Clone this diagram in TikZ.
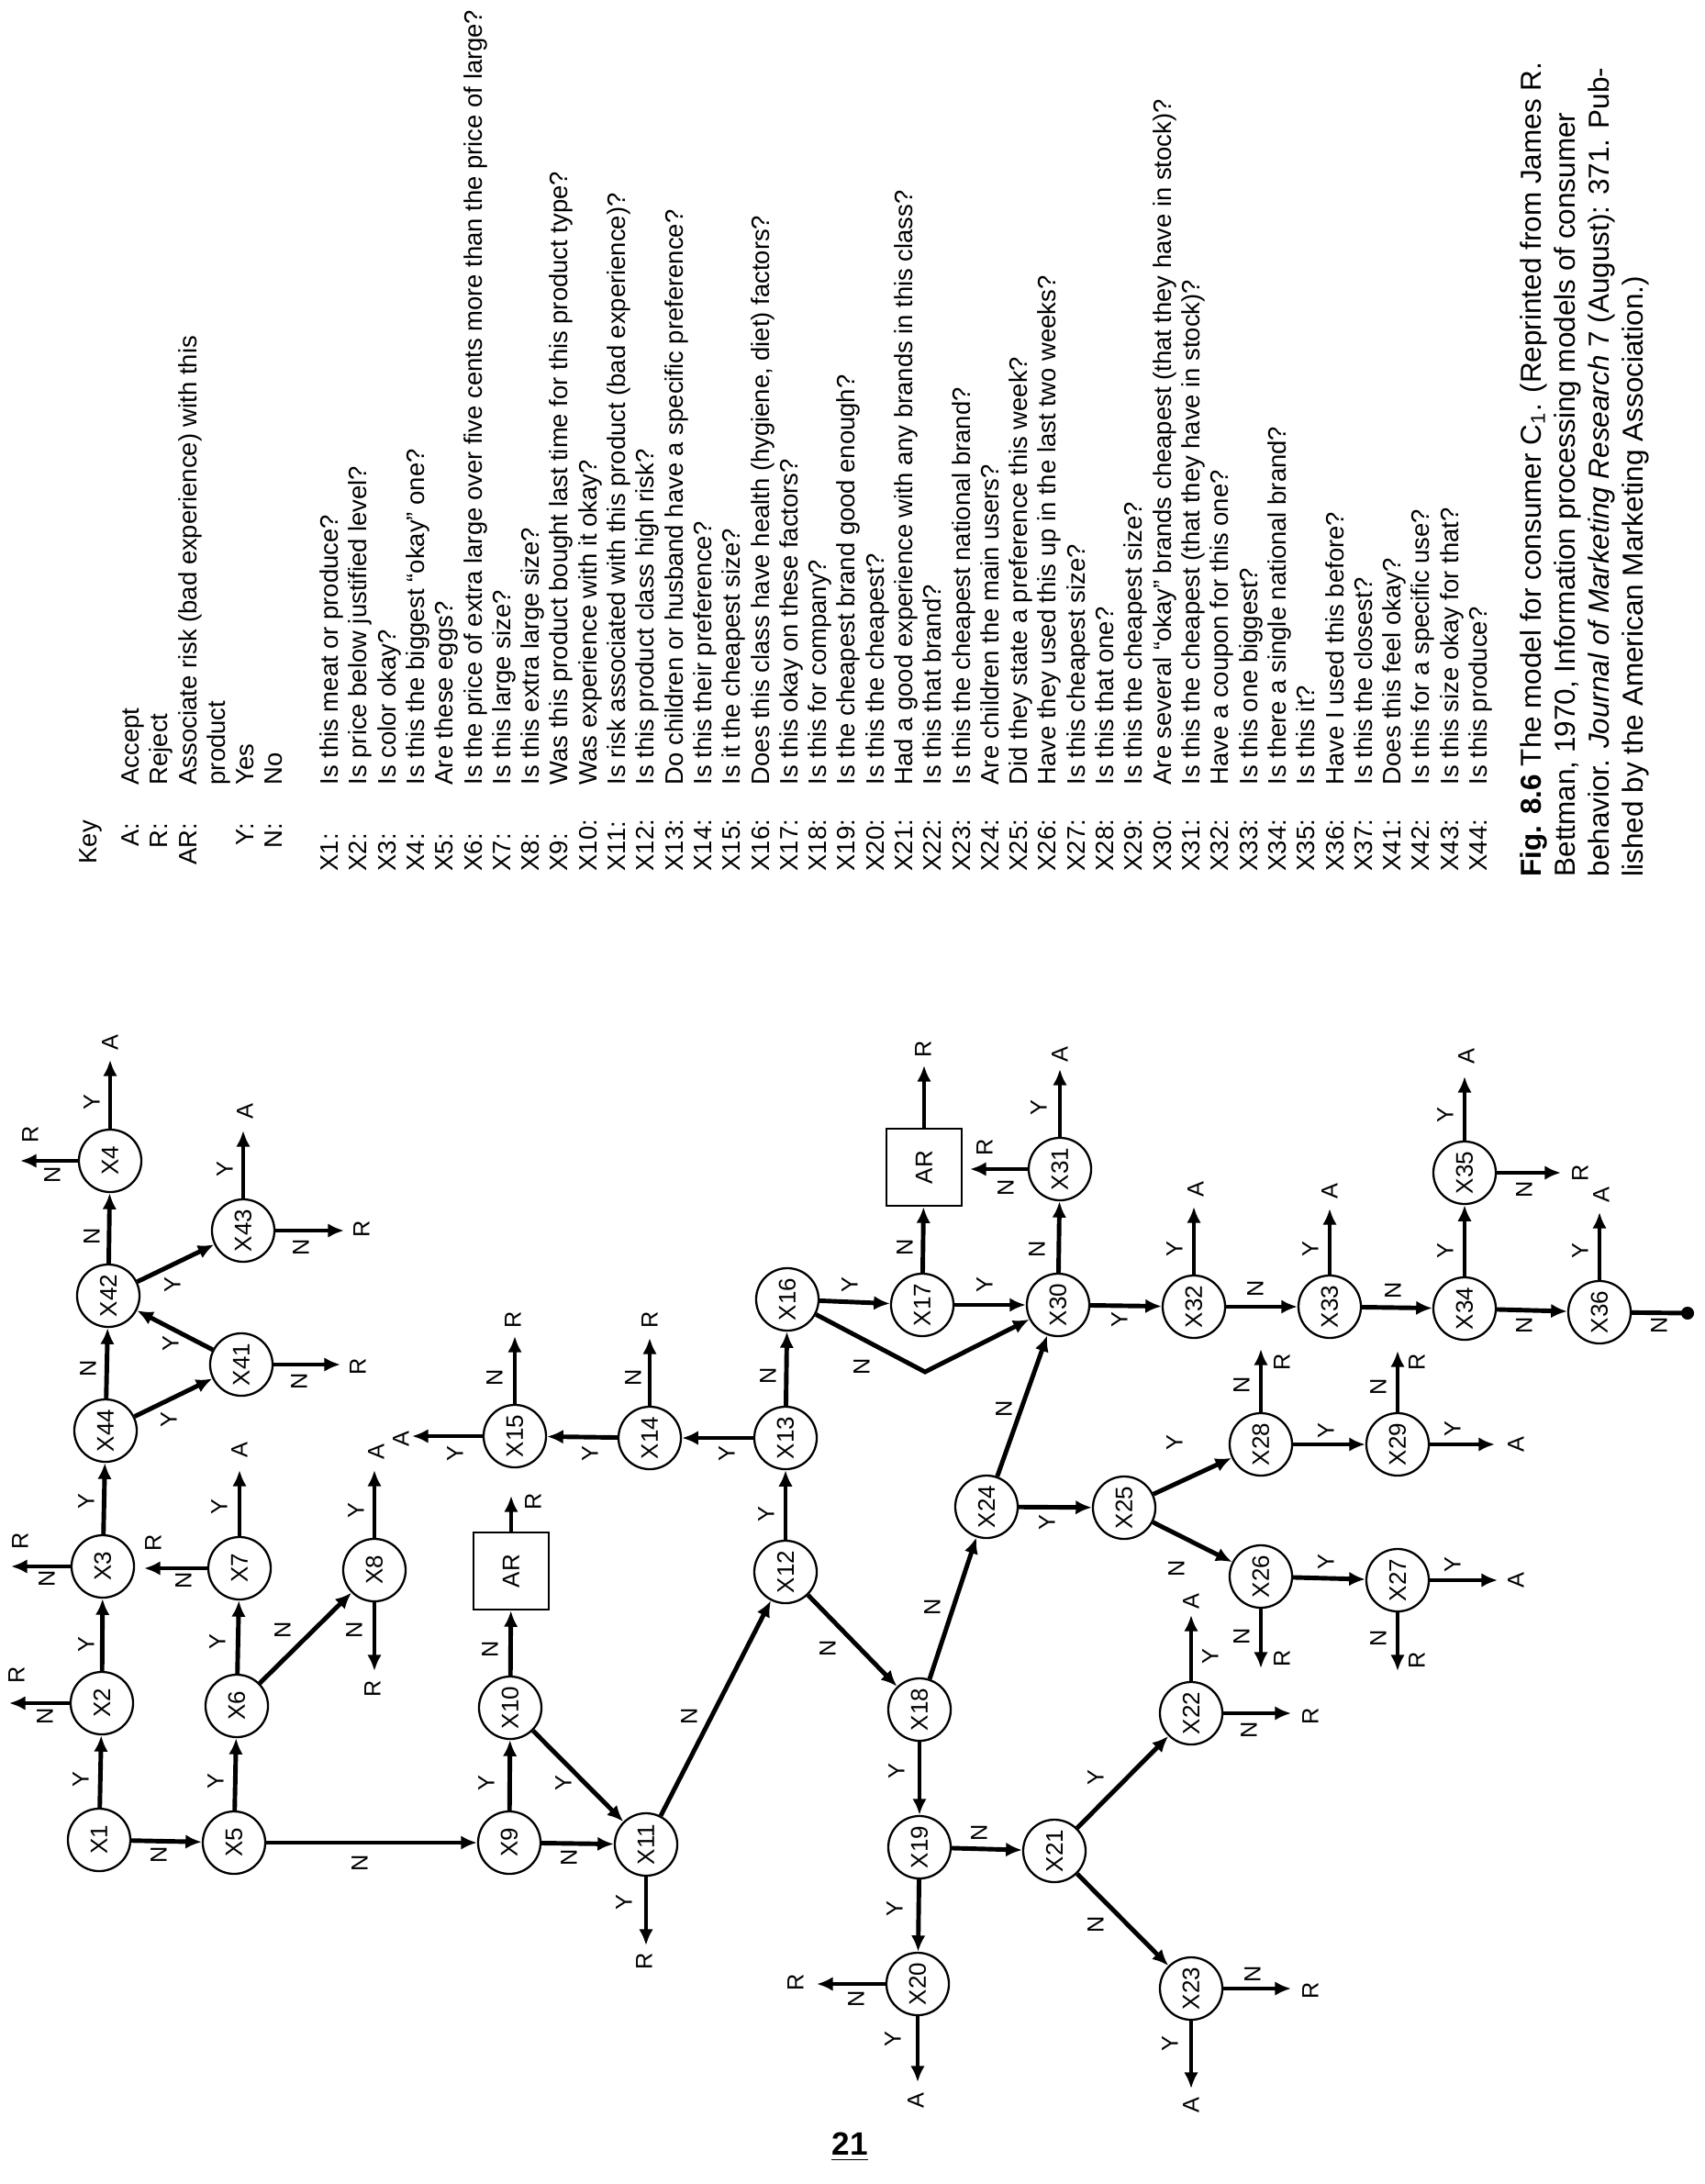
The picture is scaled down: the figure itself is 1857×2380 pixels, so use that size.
\documentclass[tikz,border=0pt]{standalone}
\usepackage{fontspec}
\setmainfont{Liberation Sans}
\usetikzlibrary{arrows.meta}

\begin{document}
\begin{tikzpicture}[x=0.01cm, y=-0.01cm,
  q/.style={circle, draw, line width=0.65pt, minimum size=0.68cm, inner sep=0pt, rotate=90, font=\fontsize{7.4}{8}\selectfont},
  arbox/.style={rectangle, draw, line width=0.65pt, minimum width=0.84cm, minimum height=0.82cm, inner sep=0pt, rotate=90, font=\fontsize{7.4}{8}\selectfont},
  lab/.style={rotate=90, inner sep=0pt, font=\fontsize{7.2}{8}\selectfont},
  arr/.style={line width=1.4pt, -{Latex[length=5pt, width=4.4pt]}},
  keyt/.style={rotate=90, inner sep=0pt, font=\fontsize{7.8}{8.9}\selectfont},
  capt/.style={rotate=90, inner sep=0pt, anchor=mid west, font=\fontsize{8.95}{10.5}\selectfont}]
\useasboundingbox (0,0) rectangle (1857,2380);

% Key (rotated, reads bottom to top)
\node[keyt, anchor=mid west] (key) at (96,942) {Key};
\node[keyt, anchor=mid east] (ka) at (142,896) {A:};
\node[keyt, anchor=mid west] (kad) at (142,856) {Accept};
\node[keyt, anchor=mid east] (kr) at (173,896) {R:};
\node[keyt, anchor=mid west] (krd) at (173,856) {Reject};
\node[keyt, anchor=mid east] (kar) at (205,896) {AR:};
\node[keyt, anchor=mid west] (kard) at (205,856) {Associate risk (bad experience) with this};
\node[keyt, anchor=mid west] (kard2) at (236,856) {product};
\node[keyt, anchor=mid east] (ky) at (267,896) {Y:};
\node[keyt, anchor=mid west] (kyd) at (267,856) {Yes};
\node[keyt, anchor=mid east] (kn) at (298,896) {N:};
\node[keyt, anchor=mid west] (knd) at (298,856) {No};

% Key questions X1 - X44
\node[keyt, anchor=mid west] (k1) at (359,950) {X1:};
\node[keyt, anchor=mid west] (k1d) at (359,856) {Is this meat or produce?};
\node[keyt, anchor=mid west] (k2) at (390,950) {X2:};
\node[keyt, anchor=mid west] (k2d) at (390,856) {Is price below justified level?};
\node[keyt, anchor=mid west] (k3) at (422,950) {X3:};
\node[keyt, anchor=mid west] (k3d) at (422,856) {Is color okay?};
\node[keyt, anchor=mid west] (k4) at (453,950) {X4:};
\node[keyt, anchor=mid west] (k4d) at (453,856) {Is this the biggest ``okay'' one?};
\node[keyt, anchor=mid west] (k5) at (484,950) {X5:};
\node[keyt, anchor=mid west] (k5d) at (484,856) {Are these eggs?};
\node[keyt, anchor=mid west] (k6) at (516,950) {X6:};
\node[keyt, anchor=mid west] (k6d) at (516,856) {Is the price of extra large over five cents more than the price of large?};
\node[keyt, anchor=mid west] (k7) at (547,950) {X7:};
\node[keyt, anchor=mid west] (k7d) at (547,856) {Is this large size?};
\node[keyt, anchor=mid west] (k8) at (578,950) {X8:};
\node[keyt, anchor=mid west] (k8d) at (578,856) {Is this extra large size?};
\node[keyt, anchor=mid west] (k9) at (609,950) {X9:};
\node[keyt, anchor=mid west] (k9d) at (609,856) {Was this product bought last time for this product type?};
\node[keyt, anchor=mid west] (k10) at (641,950) {X10:};
\node[keyt, anchor=mid west] (k10d) at (641,856) {Was experience with it okay?};
\node[keyt, anchor=mid west] (k11) at (672,950) {X11:};
\node[keyt, anchor=mid west] (k11d) at (672,856) {Is risk associated with this product (bad experience)?};
\node[keyt, anchor=mid west] (k12) at (703,950) {X12:};
\node[keyt, anchor=mid west] (k12d) at (703,856) {Is this product class high risk?};
\node[keyt, anchor=mid west] (k13) at (735,950) {X13:};
\node[keyt, anchor=mid west] (k13d) at (735,856) {Do children or husband have a specific preference?};
\node[keyt, anchor=mid west] (k14) at (766,950) {X14:};
\node[keyt, anchor=mid west] (k14d) at (766,856) {Is this their preference?};
\node[keyt, anchor=mid west] (k15) at (797,950) {X15:};
\node[keyt, anchor=mid west] (k15d) at (797,856) {Is it the cheapest size?};
\node[keyt, anchor=mid west] (k16) at (829,950) {X16:};
\node[keyt, anchor=mid west] (k16d) at (829,856) {Does this class have health (hygiene, diet) factors?};
\node[keyt, anchor=mid west] (k17) at (860,950) {X17:};
\node[keyt, anchor=mid west] (k17d) at (860,856) {Is this okay on these factors?};
\node[keyt, anchor=mid west] (k18) at (891,950) {X18:};
\node[keyt, anchor=mid west] (k18d) at (891,856) {Is this for company?};
\node[keyt, anchor=mid west] (k19) at (922,950) {X19:};
\node[keyt, anchor=mid west] (k19d) at (922,856) {Is the cheapest brand good enough?};
\node[keyt, anchor=mid west] (k20) at (954,950) {X20:};
\node[keyt, anchor=mid west] (k20d) at (954,856) {Is this the cheapest?};
\node[keyt, anchor=mid west] (k21) at (985,950) {X21:};
\node[keyt, anchor=mid west] (k21d) at (985,856) {Had a good experience with any brands in this class?};
\node[keyt, anchor=mid west] (k22) at (1016,950) {X22:};
\node[keyt, anchor=mid west] (k22d) at (1016,856) {Is this that brand?};
\node[keyt, anchor=mid west] (k23) at (1048,950) {X23:};
\node[keyt, anchor=mid west] (k23d) at (1048,856) {Is this the cheapest national brand?};
\node[keyt, anchor=mid west] (k24) at (1079,950) {X24:};
\node[keyt, anchor=mid west] (k24d) at (1079,856) {Are children the main users?};
\node[keyt, anchor=mid west] (k25) at (1110,950) {X25:};
\node[keyt, anchor=mid west] (k25d) at (1110,856) {Did they state a preference this week?};
\node[keyt, anchor=mid west] (k26) at (1141,950) {X26:};
\node[keyt, anchor=mid west] (k26d) at (1141,856) {Have they used this up in the last two weeks?};
\node[keyt, anchor=mid west] (k27) at (1173,950) {X27:};
\node[keyt, anchor=mid west] (k27d) at (1173,856) {Is this cheapest size?};
\node[keyt, anchor=mid west] (k28) at (1204,950) {X28:};
\node[keyt, anchor=mid west] (k28d) at (1204,856) {Is this that one?};
\node[keyt, anchor=mid west] (k29) at (1235,950) {X29:};
\node[keyt, anchor=mid west] (k29d) at (1235,856) {Is this the cheapest size?};
\node[keyt, anchor=mid west] (k30) at (1267,950) {X30:};
\node[keyt, anchor=mid west] (k30d) at (1267,856) {Are several ``okay'' brands cheapest (that they have in stock)?};
\node[keyt, anchor=mid west] (k31) at (1298,950) {X31:};
\node[keyt, anchor=mid west] (k31d) at (1298,856) {Is this the cheapest (that they have in stock)?};
\node[keyt, anchor=mid west] (k32) at (1329,950) {X32:};
\node[keyt, anchor=mid west] (k32d) at (1329,856) {Have a coupon for this one?};
\node[keyt, anchor=mid west] (k33) at (1361,950) {X33:};
\node[keyt, anchor=mid west] (k33d) at (1361,856) {Is this one biggest?};
\node[keyt, anchor=mid west] (k34) at (1392,950) {X34:};
\node[keyt, anchor=mid west] (k34d) at (1392,856) {Is there a single national brand?};
\node[keyt, anchor=mid west] (k35) at (1423,950) {X35:};
\node[keyt, anchor=mid west] (k35d) at (1423,856) {Is this it?};
\node[keyt, anchor=mid west] (k36) at (1455,950) {X36:};
\node[keyt, anchor=mid west] (k36d) at (1455,856) {Have I used this before?};
\node[keyt, anchor=mid west] (k37) at (1486,950) {X37:};
\node[keyt, anchor=mid west] (k37d) at (1486,856) {Is this the closest?};
\node[keyt, anchor=mid west] (k41) at (1517,950) {X41:};
\node[keyt, anchor=mid west] (k41d) at (1517,856) {Does this feel okay?};
\node[keyt, anchor=mid west] (k42) at (1548,950) {X42:};
\node[keyt, anchor=mid west] (k42d) at (1548,856) {Is this for a specific use?};
\node[keyt, anchor=mid west] (k43) at (1580,950) {X43:};
\node[keyt, anchor=mid west] (k43d) at (1580,856) {Is this size okay for that?};
\node[keyt, anchor=mid west] (k44) at (1611,950) {X44:};
\node[keyt, anchor=mid west] (k44d) at (1611,856) {Is this produce?};

% Caption
\node[capt] (cap1) at (1670,956) {\textbf{Fig. 8.6} The model for consumer C\textsubscript{1}. (Reprinted from James R.};
\node[capt] (cap2) at (1707,956) {Bettman, 1970, Information processing models of consumer};
\node[capt] (cap3) at (1744,956) {behavior. \textit{Journal of Marketing Research} 7 (August): 371. Pub-};
\node[capt] (cap4) at (1781,956) {lished by the American Marketing Association.)};

% Decision nodes
\node[q] (x1) at (108,2005) {X1};
\node[q] (x2) at (111,1856) {X2};
\node[q] (x3) at (112,1707) {X3};
\node[q] (x44) at (115,1559) {X44};
\node[q] (x42) at (118,1412) {X42};
\node[q] (x4) at (120,1265) {X4};
\node[q] (x43) at (265,1341) {X43};
\node[q] (x41) at (263,1487) {X41};
\node[q] (x5) at (255,2008) {X5};
\node[q] (x6) at (258,1859) {X6};
\node[q] (x7) at (261,1709) {X7};
\node[q] (x8) at (408,1711) {X8};
\node[q] (x9) at (555,2008) {X9};
\node[q] (x10) at (556,1861) {X10};
\node[arbox] (ar1) at (557,1712) {AR};
\node[q] (x11) at (704,2010) {X11};
\node[q] (x12) at (856,1713) {X12};
\node[q] (x13) at (856,1567) {X13};
\node[q] (x14) at (708,1567) {X14};
\node[q] (x15) at (561,1565) {X15};
\node[q] (x16) at (858,1416) {X16};
\node[q] (x17) at (1005,1422) {X17};
\node[arbox] (ar2) at (1007,1272) {AR};
\node[q] (x30) at (1153,1422) {X30};
\node[q] (x31) at (1155,1274) {X31};
\node[q] (x18) at (1002,1863) {X18};
\node[q] (x19) at (1002,2013) {X19};
\node[q] (x20) at (1000,2162) {X20};
\node[q] (x21) at (1149,2017) {X21};
\node[q] (x22) at (1298,1867) {X22};
\node[q] (x23) at (1298,2167) {X23};
\node[q] (x24) at (1075,1642) {X24};
\node[q] (x25) at (1225,1643) {X25};
\node[q] (x26) at (1374,1718) {X26};
\node[q] (x27) at (1523,1722) {X27};
\node[q] (x28) at (1374,1574) {X28};
\node[q] (x29) at (1523,1574) {X29};
\node[q] (x32) at (1301,1424) {X32};
\node[q] (x33) at (1449,1424) {X33};
\node[q] (x34) at (1596,1426) {X34};
\node[q] (x35) at (1596,1278) {X35};
\node[q] (x36) at (1743,1430) {X36};

% Branches between decision nodes
\draw[arr] (x1) -- (x2);   \node[lab] (l1-2) at (88,1939) {Y};
\draw[arr] (x1) -- (x5);   \node[lab] (l1-5) at (173,2021) {N};
\draw[arr] (x2) -- (x3);   \node[lab] (l2-3) at (94,1792) {Y};
\draw[arr] (x3) -- (x44);  \node[lab] (l3-44) at (94,1636) {Y};
\draw[arr] (x44) -- (x42); \node[lab] (l44-42) at (96,1491) {N};
\draw[arr] (x44) -- (x41); \node[lab] (l44-41) at (184,1547) {Y};
\draw[arr] (x41) -- (x42); \node[lab] (l41-42) at (186,1464) {Y};
\draw[arr] (x42) -- (x4);  \node[lab] (l42-4) at (100,1347) {N};
\draw[arr] (x42) -- (x43); \node[lab] (l42-43) at (188,1400) {Y};
\draw[arr] (x5) -- (x6);   \node[lab] (l5-6) at (235,1941) {Y};
\draw[arr] (x5) -- (x9);   \node[lab] (l5-9) at (392,2030) {N};
\draw[arr] (x6) -- (x7);   \node[lab] (l6-7) at (237,1789) {Y};
\draw[arr] (x6) -- (x8);   \node[lab] (l6-8) at (308,1776) {N};
\draw[arr] (x9) -- (x10);  \node[lab] (l9-10) at (530,1943) {Y};
\draw[arr] (x9) -- (x11);  \node[lab] (l9-11) at (620,2024) {N};
\draw[arr] (x10) -- (ar1); \node[lab] (l10-ar) at (534,1797) {N};
\draw[arr] (x10) -- (x11); \node[lab] (l10-11) at (614,1943) {Y};
\draw[arr] (x11) -- (x12); \node[lab] (l11-12) at (751,1870) {N};
\draw[arr] (x12) -- (x13); \node[lab] (l12-13) at (835,1650) {Y};
\draw[arr] (x12) -- (x18); \node[lab] (l12-18) at (902,1796) {N};
\draw[arr] (x13) -- (x14); \node[lab] (l13-14) at (792,1584) {Y};
\draw[arr] (x13) -- (x16); \node[lab] (l13-16) at (837,1499) {N};
\draw[arr] (x14) -- (x15); \node[lab] (l14-15) at (643,1584) {Y};
\draw[arr] (x16) -- (x17); \node[lab] (l16-17) at (926,1400) {Y};
\coordinate (c16) at (1008,1495);
\draw[arr] (x16) -- (c16) -- (x30); \node[lab] (l16-30) at (939,1489) {N};
\draw[arr] (x17) -- (ar2); \node[lab] (l17-ar) at (986,1359) {N};
\draw[arr] (x17) -- (x30); \node[lab] (l17-30) at (1073,1400) {Y};
\draw[arr] (x30) -- (x31); \node[lab] (l30-31) at (1130,1361) {N};
\draw[arr] (x30) -- (x32); \node[lab] (l30-32) at (1220,1438) {Y};
\draw[arr] (x18) -- (x19); \node[lab] (l18-19) at (977,1930) {Y};
\draw[arr] (x18) -- (x24); \node[lab] (l18-24) at (1016,1751) {N};
\draw[arr] (x19) -- (x20); \node[lab] (l19-20) at (975,2080) {Y};
\draw[arr] (x19) -- (x21); \node[lab] (l19-21) at (1067,1997) {N};
\draw[arr] (x21) -- (x22); \node[lab] (l21-22) at (1194,1937) {Y};
\draw[arr] (x21) -- (x23); \node[lab] (l21-23) at (1194,2097) {N};
\draw[arr] (x24) -- (x30); \node[lab] (l24-30) at (1094,1535) {N};
\draw[arr] (x24) -- (x25); \node[lab] (l24-25) at (1141,1659) {Y};
\draw[arr] (x25) -- (x28); \node[lab] (l25-28) at (1280,1572) {Y};
\draw[arr] (x25) -- (x26); \node[lab] (l25-26) at (1282,1709) {N};
\draw[arr] (x26) -- (x27); \node[lab] (l26-27) at (1445,1702) {Y};
\draw[arr] (x28) -- (x29); \node[lab] (l28-29) at (1445,1559) {Y};
\draw[arr] (x32) -- (x33); \node[lab] (l32-33) at (1368,1404) {N};
\draw[arr] (x33) -- (x34); \node[lab] (l33-34) at (1518,1406) {N};
\draw[arr] (x34) -- (x35); \node[lab] (l34-35) at (1575,1363) {Y};
\draw[arr] (x34) -- (x36); \node[lab] (l34-36) at (1661,1444) {N};

% Exits to accept / reject
\coordinate (t2n) at (10,1856);    \draw[arr] (x2) -- (t2n);
\node[lab] (l2n) at (49,1870) {N};  \node[lab] (o2n) at (18,1825) {R};
\coordinate (t3n) at (12,1707);    \draw[arr] (x3) -- (t3n);
\node[lab] (l3n) at (51,1720) {N};  \node[lab] (o3n) at (22,1679) {R};
\coordinate (t4y) at (120,1155);   \draw[arr] (x4) -- (t4y);
\node[lab] (l4y) at (100,1201) {Y}; \node[lab] (o4y) at (120,1136) {A};
\coordinate (t4n) at (22,1265);    \draw[arr] (x4) -- (t4n);
\node[lab] (l4n) at (57,1280) {N};  \node[lab] (o4n) at (33,1236) {R};
\coordinate (t43y) at (265,1232);  \draw[arr] (x43) -- (t43y);
\node[lab] (l43y) at (245,1274) {Y}; \node[lab] (o43y) at (267,1211) {A};
\coordinate (t43n) at (375,1341);  \draw[arr] (x43) -- (t43n);
\node[lab] (l43n) at (328,1359) {N}; \node[lab] (o43n) at (394,1339) {R};
\coordinate (t41n) at (371,1487);  \draw[arr] (x41) -- (t41n);
\node[lab] (l41n) at (326,1505) {N}; \node[lab] (o41n) at (390,1489) {R};
\coordinate (t7y) at (261,1602);   \draw[arr] (x7) -- (t7y);
\node[lab] (l7y) at (239,1642) {Y}; \node[lab] (o7y) at (261,1580) {A};
\coordinate (t7n) at (157,1709);   \draw[arr] (x7) -- (t7n);
\node[lab] (l7n) at (200,1722) {N}; \node[lab] (o7n) at (167,1681) {R};
\coordinate (t8y) at (408,1602);   \draw[arr] (x8) -- (t8y);
\node[lab] (l8y) at (388,1646) {Y}; \node[lab] (o8y) at (410,1582) {A};
\coordinate (t8n) at (408,1821);   \draw[arr] (x8) -- (t8n);
\node[lab] (l8n) at (386,1776) {N}; \node[lab] (o8n) at (406,1840) {R};
\coordinate (tar1) at (557,1630);  \draw[arr] (ar1) -- (tar1);
\node[lab] (oar1) at (581,1636) {R};
\coordinate (t11y) at (704,2120);  \draw[arr] (x11) -- (t11y);
\node[lab] (l11y) at (680,2073) {Y}; \node[lab] (o11y) at (702,2137) {R};
\coordinate (t14n) at (708,1458);  \draw[arr] (x14) -- (t14n);
\node[lab] (l14n) at (690,1501) {N}; \node[lab] (o14n) at (708,1438) {R};
\coordinate (t15y) at (449,1565);  \draw[arr] (x15) -- (t15y);
\node[lab] (l15y) at (496,1584) {Y}; \node[lab] (o15y) at (437,1568) {A};
\coordinate (t15n) at (561,1456);  \draw[arr] (x15) -- (t15n);
\node[lab] (l15n) at (539,1501) {N}; \node[lab] (o15n) at (559,1438) {R};
\coordinate (tar2) at (1007,1161); \draw[arr] (ar2) -- (tar2);
\node[lab] (oar2) at (1006,1143) {R};
\coordinate (t31y) at (1155,1165); \draw[arr] (x31) -- (t31y);
\node[lab] (l31y) at (1132,1207) {Y}; \node[lab] (o31y) at (1155,1149) {A};
\coordinate (t31n) at (1057,1274); \draw[arr] (x31) -- (t31n);
\node[lab] (l31n) at (1096,1294) {N}; \node[lab] (o31n) at (1073,1250) {R};
\coordinate (t20n) at (890,2162);  \draw[arr] (x20) -- (t20n);
\node[lab] (l20n) at (933,2178) {N}; \node[lab] (o20n) at (867,2160) {R};
\coordinate (t20y) at (1000,2269); \draw[arr] (x20) -- (t20y);
\node[lab] (l20y) at (973,2222) {Y}; \node[lab] (o20y) at (998,2289) {A};
\coordinate (t22y) at (1298,1760); \draw[arr] (x22) -- (t22y);
\node[lab] (l22y) at (1319,1805) {Y}; \node[lab] (o22y) at (1298,1745) {A};
\coordinate (t22n) at (1407,1867); \draw[arr] (x22) -- (t22n);
\node[lab] (l22n) at (1361,1885) {N}; \node[lab] (o22n) at (1428,1870) {R};
\coordinate (t23n) at (1407,2167); \draw[arr] (x23) -- (t23n);
\node[lab] (l23n) at (1365,2151) {N}; \node[lab] (o23n) at (1428,2169) {R};
\coordinate (t23y) at (1298,2276); \draw[arr] (x23) -- (t23y);
\node[lab] (l23y) at (1275,2227) {Y}; \node[lab] (o23y) at (1298,2294) {A};
\coordinate (t26n) at (1374,1818); \draw[arr] (x26) -- (t26n);
\node[lab] (l26n) at (1353,1783) {N}; \node[lab] (o26n) at (1397,1807) {R};
\coordinate (t27y) at (1632,1722); \draw[arr] (x27) -- (t27y);
\node[lab] (l27y) at (1583,1705) {Y}; \node[lab] (o27y) at (1652,1722) {A};
\coordinate (t27n) at (1523,1821); \draw[arr] (x27) -- (t27n);
\node[lab] (l27n) at (1502,1785) {N}; \node[lab] (o27n) at (1544,1809) {R};
\coordinate (t28n) at (1374,1470); \draw[arr] (x28) -- (t28n);
\node[lab] (l28n) at (1353,1509) {N}; \node[lab] (o28n) at (1397,1484) {R};
\coordinate (t29y) at (1629,1574); \draw[arr] (x29) -- (t29y);
\node[lab] (l29y) at (1583,1557) {Y}; \node[lab] (o29y) at (1652,1574) {A};
\coordinate (t29n) at (1523,1472); \draw[arr] (x29) -- (t29n);
\node[lab] (l29n) at (1502,1511) {N}; \node[lab] (o29n) at (1544,1484) {R};
\coordinate (t32y) at (1301,1315); \draw[arr] (x32) -- (t32y);
\node[lab] (l32y) at (1280,1361) {Y}; \node[lab] (o32y) at (1303,1296) {A};
\coordinate (t33y) at (1449,1317); \draw[arr] (x33) -- (t33y);
\node[lab] (l33y) at (1428,1361) {Y}; \node[lab] (o33y) at (1449,1298) {A};
\coordinate (t35y) at (1596,1173); \draw[arr] (x35) -- (t35y);
\node[lab] (l35y) at (1575,1215) {Y}; \node[lab] (o35y) at (1598,1151) {A};
\coordinate (t35n) at (1701,1278); \draw[arr] (x35) -- (t35n);
\node[lab] (l35n) at (1661,1296) {N}; \node[lab] (o35n) at (1722,1278) {R};
\coordinate (t36y) at (1743,1321); \draw[arr] (x36) -- (t36y);
\node[lab] (l36y) at (1722,1363) {Y}; \node[lab] (o36y) at (1745,1302) {A};
\coordinate (t36n) at (1839,1431); \draw[line width=1.4pt] (x36) -- (t36n);
\fill (t36n) circle (2pt);
\node[lab] (l36n) at (1808,1444) {N};

% Page number
\node[font=\fontsize{10}{12}\selectfont\bfseries] (pagenum) at (926,2340) {\underline{21}};
\end{tikzpicture}
\end{document}
